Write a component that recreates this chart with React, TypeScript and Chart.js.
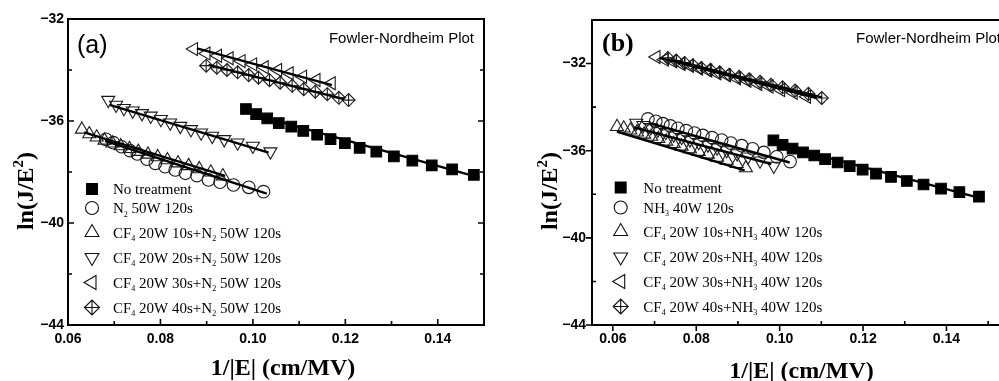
import React, { useEffect, useRef } from 'react';
import { Chart, registerables } from 'chart.js';

Chart.register(...registerables);

const SERIF = '"Liberation Serif", "Times New Roman", serif';
const SANS = '"Liberation Sans", Arial, sans-serif';

// ---------- axis ticks ----------
const xTickValues = [0.06, 0.08, 0.1, 0.12, 0.14];
const xTickLabels = ['0.06', '0.08', '0.10', '0.12', '0.14'];
const yTickValues = [-44, -40, -36, -32];
const yTickLabels = ['\u221244', '\u221240', '\u221236', '\u221232'];

// ---------- shared: untreated sample ----------
const noTreatX = [0.0985, 0.1007, 0.1031, 0.1056, 0.1083, 0.1109, 0.1139, 0.1168, 0.1199, 0.1231, 0.1267, 0.1305, 0.1345, 0.1387, 0.1431, 0.1478];
const noTreatY = [-35.53, -35.73, -35.9, -36.08, -36.22, -36.39, -36.54, -36.71, -36.87, -37.05, -37.2, -37.39, -37.55, -37.74, -37.9, -38.11];
const noTreatFitX = [0.0985, 0.149];
const noTreatFitY = [-35.65, -38.22];

// ---------- (a) N2 plasma series ----------
const n2X = [0.0682, 0.0698, 0.0716, 0.0734, 0.075, 0.0771, 0.0789, 0.081, 0.0832, 0.0854, 0.0879, 0.0904, 0.0929, 0.0958, 0.0991, 0.1023];
const n2Y = [-36.72, -36.85, -37.01, -37.16, -37.29, -37.5, -37.66, -37.79, -37.92, -38.05, -38.14, -38.31, -38.4, -38.51, -38.6, -38.77];
const n2FitX = [0.068, 0.103];
const n2FitY = [-36.78, -38.85];

const cf10n2X = [0.063, 0.0646, 0.0662, 0.0679, 0.0696, 0.0714, 0.0733, 0.0752, 0.0773, 0.0794, 0.0815, 0.0838, 0.0861, 0.0884, 0.0909, 0.0935];
const cf10n2Y = [-36.33, -36.51, -36.64, -36.76, -36.87, -36.98, -37.09, -37.2, -37.31, -37.41, -37.53, -37.65, -37.76, -37.88, -38.01, -38.16];
const cf10n2FitX = [0.0635, 0.094];
const cf10n2FitY = [-36.45, -38.15];

const cf20n2X = [0.0687, 0.0704, 0.0721, 0.074, 0.076, 0.0779, 0.0801, 0.0821, 0.0843, 0.0866, 0.0888, 0.0912, 0.0938, 0.0967, 0.1, 0.1038];
const cf20n2Y = [-35.18, -35.37, -35.5, -35.6, -35.7, -35.8, -35.93, -36.07, -36.2, -36.33, -36.46, -36.59, -36.72, -36.85, -36.98, -37.2];
const cf20n2FitX = [0.069, 0.1034];
const cf20n2FitY = [-35.37, -37.24];

const cf30n2X = [0.0872, 0.0899, 0.0924, 0.0949, 0.0975, 0.1, 0.1025, 0.1054, 0.1079, 0.1108, 0.1137, 0.117];
const cf30n2Y = [-33.18, -33.35, -33.44, -33.54, -33.65, -33.78, -33.89, -34.0, -34.13, -34.26, -34.39, -34.52];
const cf30n2FitX = [0.0879, 0.1171];
const cf30n2FitY = [-33.15, -34.59];

const cf40n2X = [0.0899, 0.0922, 0.0944, 0.0967, 0.0991, 0.1012, 0.1036, 0.1059, 0.1085, 0.111, 0.1135, 0.1161, 0.1186, 0.1207];
const cf40n2Y = [-33.83, -33.91, -34.0, -34.09, -34.2, -34.3, -34.4, -34.5, -34.62, -34.75, -34.85, -34.95, -35.09, -35.18];
const cf40n2FitX = [0.0904, 0.1197];
const cf40n2FitY = [-33.8, -35.14];

// ---------- (b) NH3 plasma series ----------
const nh3X = [0.0684, 0.0703, 0.072, 0.0738, 0.0756, 0.0776, 0.0796, 0.0816, 0.0838, 0.0861, 0.0883, 0.0909, 0.0935, 0.0962, 0.0993, 0.1025];
const nh3Y = [-34.54, -34.65, -34.76, -34.86, -34.97, -35.08, -35.19, -35.3, -35.4, -35.51, -35.65, -35.77, -35.91, -36.08, -36.28, -36.5];
const nh3FitX = [0.0688, 0.1024];
const nh3FitY = [-34.73, -36.54];

const cf10nh3X = [0.061, 0.0626, 0.0642, 0.0658, 0.0675, 0.0692, 0.0709, 0.0728, 0.0746, 0.0765, 0.0785, 0.0806, 0.0828, 0.085, 0.0873, 0.0897, 0.0919];
const cf10nh3Y = [-34.9, -34.97, -35.06, -35.15, -35.25, -35.35, -35.45, -35.57, -35.68, -35.8, -35.92, -36.04, -36.17, -36.31, -36.45, -36.6, -36.79];
const cf10nh3FitX = [0.0611, 0.0916];
const cf10nh3FitY = [-35.13, -36.9];

const cf20nh3X = [0.0656, 0.0673, 0.0691, 0.0708, 0.0727, 0.0746, 0.0765, 0.0785, 0.0806, 0.0828, 0.085, 0.0873, 0.0898, 0.0924, 0.0953, 0.0986];
const cf20nh3Y = [-34.73, -34.83, -34.93, -35.04, -35.15, -35.27, -35.38, -35.49, -35.61, -35.73, -35.86, -35.99, -36.13, -36.28, -36.46, -36.7];
const cf20nh3FitX = [0.0651, 0.098];
const cf20nh3FitY = [-34.93, -36.61];

const cf30nh3X = [0.0704, 0.0724, 0.0744, 0.0764, 0.0784, 0.0806, 0.0828, 0.085, 0.0873, 0.0897, 0.0922, 0.0948, 0.0975, 0.1003, 0.1033, 0.1065];
const cf30nh3Y = [-31.7, -31.82, -31.9, -32.02, -32.1, -32.23, -32.32, -32.45, -32.54, -32.68, -32.79, -32.94, -33.05, -33.21, -33.34, -33.52];
const cf30nh3FitX = [0.0712, 0.1089];
const cf30nh3FitY = [-31.74, -33.58];

const cf40nh3X = [0.0732, 0.0752, 0.0772, 0.0792, 0.0812, 0.0834, 0.0856, 0.0879, 0.0903, 0.0927, 0.0953, 0.0979, 0.1007, 0.1037, 0.1069, 0.1101];
const cf40nh3Y = [-31.74, -31.86, -31.97, -32.08, -32.2, -32.29, -32.4, -32.51, -32.61, -32.72, -32.84, -32.97, -33.09, -33.24, -33.39, -33.58];
const cf40nh3FitX = [0.074, 0.1101];
const cf40nh3FitY = [-31.82, -33.55];

// ---------- legend labels ("_" marks a one-character subscript) ----------
const labelsA = [
  'No treatment',
  'N_2 50W 120s',
  'CF_4 20W 10s+N_2 50W 120s',
  'CF_4 20W 20s+N_2 50W 120s',
  'CF_4 20W 30s+N_2 50W 120s',
  'CF_4 20W 40s+N_2 50W 120s',
];
const labelsB = [
  'No treatment',
  'NH_3 40W 120s',
  'CF_4 20W 10s+NH_3 40W 120s',
  'CF_4 20W 20s+NH_3 40W 120s',
  'CF_4 20W 30s+NH_3 40W 120s',
  'CF_4 20W 40s+NH_3 40W 120s',
];

type Marker = 'square' | 'circle' | 'up' | 'down' | 'left' | 'crossDiamond';
const markers: Marker[] = ['square', 'circle', 'up', 'down', 'left', 'crossDiamond'];

interface SeriesDef {
  label: string;
  marker: Marker;
  x: number[];
  y: number[];
  fitX: number[];
  fitY: number[];
}

const seriesA: SeriesDef[] = [
  { label: labelsA[0], marker: markers[0], x: noTreatX, y: noTreatY, fitX: noTreatFitX, fitY: noTreatFitY },
  { label: labelsA[1], marker: markers[1], x: n2X, y: n2Y, fitX: n2FitX, fitY: n2FitY },
  { label: labelsA[2], marker: markers[2], x: cf10n2X, y: cf10n2Y, fitX: cf10n2FitX, fitY: cf10n2FitY },
  { label: labelsA[3], marker: markers[3], x: cf20n2X, y: cf20n2Y, fitX: cf20n2FitX, fitY: cf20n2FitY },
  { label: labelsA[4], marker: markers[4], x: cf30n2X, y: cf30n2Y, fitX: cf30n2FitX, fitY: cf30n2FitY },
  { label: labelsA[5], marker: markers[5], x: cf40n2X, y: cf40n2Y, fitX: cf40n2FitX, fitY: cf40n2FitY },
];

const seriesB: SeriesDef[] = [
  { label: labelsB[0], marker: markers[0], x: noTreatX, y: noTreatY, fitX: noTreatFitX, fitY: noTreatFitY },
  { label: labelsB[1], marker: markers[1], x: nh3X, y: nh3Y, fitX: nh3FitX, fitY: nh3FitY },
  { label: labelsB[2], marker: markers[2], x: cf10nh3X, y: cf10nh3Y, fitX: cf10nh3FitX, fitY: cf10nh3FitY },
  { label: labelsB[3], marker: markers[3], x: cf20nh3X, y: cf20nh3Y, fitX: cf20nh3FitX, fitY: cf20nh3FitY },
  { label: labelsB[4], marker: markers[4], x: cf30nh3X, y: cf30nh3Y, fitX: cf30nh3FitX, fitY: cf30nh3FitY },
  { label: labelsB[5], marker: markers[5], x: cf40nh3X, y: cf40nh3Y, fitX: cf40nh3FitX, fitY: cf40nh3FitY },
];

// ---------- panel layout ----------
interface PanelCfg {
  series: SeriesDef[];
  left: number;
  width: number;
  xMin: number;
  xMax: number;
  yMin: number;
  yMax: number;
  padTop: number;
  padRight: number;
  yAxisWidth: number;
  xAxisHeight: number;
  yLabelPad: number;
  xLabelPad: number;
  majorOut: boolean;
  tag: string;
  tagFont: string;
  tagX: number;
  tagY: number;
  header: string;
  headerX: number;
  headerAlign: CanvasTextAlign;
  xTitle: string;
  xTitleX: number;
  xTitleY: number;
  yTitle: string;
  yTitleX: number;
  yTitleY: number;
  legendMarkerX: number;
  legendTextX: number;
  legendRows: number[];
}

const panelA: PanelCfg = {
  series: seriesA,
  left: 0,
  width: 500,
  xMin: 0.06,
  xMax: 0.15,
  yMin: -44,
  yMax: -32,
  padTop: 19,
  padRight: 16,
  yAxisWidth: 68,
  xAxisHeight: 56,
  yLabelPad: 4,
  xLabelPad: 6,
  majorOut: false,
  tag: '(a)',
  tagFont: `25px ${SANS}`,
  tagX: 77,
  tagY: 53,
  header: 'Fowler-Nordheim Plot',
  headerX: 474,
  headerAlign: 'right',
  xTitle: '1/|E| (cm/MV)',
  xTitleX: 283,
  xTitleY: 375,
  yTitle: 'ln(J/E^2)',
  yTitleX: 33,
  yTitleY: 191,
  legendMarkerX: 92,
  legendTextX: 113,
  legendRows: [189, 208, 232.5, 257.5, 282.5, 307.5],
};

const panelB: PanelCfg = {
  series: seriesB,
  left: 500,
  width: 530,
  xMin: 0.055,
  xMax: 0.155,
  yMin: -44,
  yMax: -30,
  padTop: 20,
  padRight: 21,
  yAxisWidth: 92,
  xAxisHeight: 56,
  yLabelPad: 6,
  xLabelPad: 6,
  majorOut: true,
  tag: '(b)',
  tagFont: `bold 26px ${SERIF}`,
  tagX: 102,
  tagY: 51,
  header: 'Fowler-Nordheim Plot',
  headerX: 356,
  headerAlign: 'left',
  xTitle: '1/|E| (cm/MV)',
  xTitleX: 301.5,
  xTitleY: 378,
  yTitle: 'ln(J/E^2)',
  yTitleX: 57,
  yTitleY: 191,
  legendMarkerX: 120.7,
  legendTextX: 143.3,
  legendRows: [187.5, 207.5, 231.5, 257, 281.5, 306.5],
};

// ---------- drawing helpers ----------
type Part = { t: string; kind: 'n' | 'sub' | 'sup' };

function parseRich(text: string): Part[] {
  const parts: Part[] = [];
  let buf = '';
  for (let i = 0; i < text.length; i++) {
    const c = text[i];
    if ((c === '_' || c === '^') && i + 1 < text.length) {
      if (buf) parts.push({ t: buf, kind: 'n' });
      buf = '';
      parts.push({ t: text[i + 1], kind: c === '_' ? 'sub' : 'sup' });
      i++;
    } else {
      buf += c;
    }
  }
  if (buf) parts.push({ t: buf, kind: 'n' });
  return parts;
}

function drawRich(
  ctx: CanvasRenderingContext2D,
  text: string,
  x: number,
  y: number,
  size: number,
  family: string,
  weight: string,
  align: 'left' | 'center',
  scriptScale = 0.58,
) {
  const parts = parseRich(text);
  const fontOf = (p: Part) =>
    `${weight} ${p.kind === 'n' ? size : Math.round(size * scriptScale)}px ${family}`;
  let total = 0;
  const widths = parts.map((p) => {
    ctx.font = fontOf(p);
    const w = ctx.measureText(p.t).width;
    total += w;
    return w;
  });
  let cx = align === 'center' ? x - total / 2 : x;
  ctx.textAlign = 'left';
  ctx.textBaseline = 'alphabetic';
  parts.forEach((p, i) => {
    ctx.font = fontOf(p);
    const dy = p.kind === 'sub' ? size * 0.26 : p.kind === 'sup' ? -size * 0.42 : 0;
    ctx.fillText(p.t, cx, y + dy);
    cx += widths[i];
  });
}

function drawLegendMarker(ctx: CanvasRenderingContext2D, m: Marker, x: number, y: number) {
  ctx.save();
  ctx.lineWidth = 1.1;
  ctx.strokeStyle = '#111';
  ctx.fillStyle = '#000';
  ctx.beginPath();
  if (m === 'square') {
    const s = 6;
    ctx.rect(x - s, y - s, 2 * s, 2 * s);
    ctx.fill();
  } else if (m === 'circle') {
    ctx.arc(x, y, 6.5, 0, Math.PI * 2);
    ctx.stroke();
  } else if (m === 'up' || m === 'down' || m === 'left') {
    const r = 8;
    const rot = m === 'up' ? 0 : m === 'down' ? Math.PI : -Math.PI / 2;
    for (let k = 0; k < 3; k++) {
      const a = rot + (k * 2 * Math.PI) / 3;
      const px = x + Math.sin(a) * r;
      const py = y - Math.cos(a) * r;
      if (k === 0) ctx.moveTo(px, py);
      else ctx.lineTo(px, py);
    }
    ctx.closePath();
    ctx.stroke();
  } else {
    const r = 7.5;
    ctx.moveTo(x - r, y);
    ctx.lineTo(x, y - r);
    ctx.lineTo(x + r, y);
    ctx.lineTo(x, y + r);
    ctx.closePath();
    ctx.moveTo(x - r, y);
    ctx.lineTo(x + r, y);
    ctx.moveTo(x, y - r);
    ctx.lineTo(x, y + r);
    ctx.stroke();
  }
  ctx.restore();
}

// frame, inner ticks, titles, panel tag and legend
const decorPlugin = {
  id: 'fnDecor',
  afterDraw(chart: any, _args: any, o: PanelCfg) {
    const { ctx, chartArea: ca, scales } = chart;
    const xs = scales.x;
    const ys = scales.y;
    ctx.save();
    ctx.strokeStyle = '#000';
    ctx.fillStyle = '#000';

    ctx.lineWidth = 2;
    ctx.strokeRect(ca.left, ca.top, ca.right - ca.left, ca.bottom - ca.top);

    const majLen = 6;
    const minLen = 4;
    const dir = o.majorOut ? -1 : 1;
    ctx.lineWidth = 1.6;
    ctx.beginPath();
    for (let v = o.yMin; v <= o.yMax + 1e-9; v += 2) {
      const p = ys.getPixelForValue(v);
      const major = yTickValues.includes(v);
      const len = major ? majLen * dir : minLen;
      ctx.moveTo(ca.left, p);
      ctx.lineTo(ca.left + len, p);
      ctx.moveTo(ca.right, p);
      ctx.lineTo(ca.right - len, p);
    }
    for (let k = Math.ceil(o.xMin * 100 - 1e-6); k <= Math.floor(o.xMax * 100 + 1e-6); k++) {
      const v = k / 100;
      const p = xs.getPixelForValue(v);
      const major = k % 2 === 0;
      const len = major ? majLen * dir : minLen;
      ctx.moveTo(p, ca.bottom);
      ctx.lineTo(p, ca.bottom - len);
    }
    ctx.stroke();

    // axis titles
    drawRich(ctx, o.xTitle, o.xTitleX, o.xTitleY, 24, SERIF, 'bold', 'center');
    ctx.save();
    ctx.translate(o.yTitleX, o.yTitleY);
    ctx.rotate(-Math.PI / 2);
    drawRich(ctx, o.yTitle, 0, 0, 24, SERIF, 'bold', 'center', 0.62);
    ctx.restore();

    // panel tag and header
    ctx.font = o.tagFont;
    ctx.textAlign = 'left';
    ctx.textBaseline = 'alphabetic';
    ctx.fillText(o.tag, o.tagX, o.tagY);
    ctx.font = `15px ${SANS}`;
    ctx.textAlign = o.headerAlign;
    ctx.fillText(o.header, o.headerX, 43);

    // legend
    o.series.forEach((s, i) => {
      const yRow = o.legendRows[i];
      drawLegendMarker(ctx, s.marker, o.legendMarkerX, yRow);
      drawRich(ctx, s.label, o.legendTextX, yRow + 5, 15, SERIF, 'normal', 'left', 0.55);
    });
    ctx.restore();
  },
};

function markerDatasets(s: SeriesDef): any[] {
  const data = s.x.map((v, i) => ({ x: v, y: s.y[i] }));
  const base = {
    type: 'scatter',
    label: s.label,
    data,
    showLine: false,
    order: 1,
    pointBorderWidth: 1.1,
    pointBorderColor: '#1a1a1a',
    pointBackgroundColor: 'rgba(0,0,0,0)',
    pointRotation: 0,
  };
  switch (s.marker) {
    case 'square':
      return [{ ...base, pointStyle: 'rect', pointRadius: 7.5, pointBackgroundColor: '#000', pointBorderColor: '#000' }];
    case 'circle':
      return [{ ...base, pointStyle: 'circle', pointRadius: 6.3 }];
    case 'up':
      return [{ ...base, pointStyle: 'triangle', pointRadius: 7.5 }];
    case 'down':
      return [{ ...base, pointStyle: 'triangle', pointRadius: 7.5, pointRotation: 180 }];
    case 'left':
      return [{ ...base, pointStyle: 'triangle', pointRadius: 7.5, pointRotation: 270 }];
    default:
      return [
        { ...base, pointStyle: 'rectRot', pointRadius: 6.5 },
        { ...base, pointStyle: 'cross', pointRadius: 6.5 },
      ];
  }
}

function fitDataset(s: SeriesDef): any {
  return {
    type: 'scatter',
    label: s.label + ' fit',
    data: s.fitX.map((v, i) => ({ x: v, y: s.fitY[i] })),
    showLine: true,
    borderColor: '#000',
    borderWidth: 2.4,
    pointRadius: 0,
    order: 0,
  };
}

function Panel({ cfg }: { cfg: PanelCfg }) {
  const ref = useRef<HTMLCanvasElement>(null);
  useEffect(() => {
    const canvas = ref.current;
    if (!canvas) return;
    const datasets = [
      ...cfg.series.map(fitDataset),
      ...cfg.series.flatMap(markerDatasets),
    ];
    const tickFont = { family: SANS, size: 14, weight: 'bold' as const };
    const chart = new Chart(canvas, {
      type: 'scatter',
      data: { datasets },
      plugins: [decorPlugin],
      options: {
        responsive: false,
        animation: false,
        devicePixelRatio: 1,
        layout: { padding: { top: cfg.padTop, right: cfg.padRight, left: 0, bottom: 0 } },
        events: [],
        plugins: {
          legend: { display: false },
          tooltip: { enabled: false },
          fnDecor: cfg,
        } as any,
        scales: {
          x: {
            type: 'linear',
            min: cfg.xMin,
            max: cfg.xMax,
            grid: { display: false, drawTicks: false, tickLength: 0 },
            border: { display: false },
            ticks: {
              font: tickFont,
              color: '#000',
              padding: cfg.xLabelPad,
              autoSkip: false,
              maxRotation: 0,
              callback: (_v: any, i: number) => xTickLabels[i],
            },
            afterBuildTicks: (scale: any) => {
              scale.ticks = xTickValues.map((v) => ({ value: v }));
            },
            afterFit: (scale: any) => {
              scale.height = cfg.xAxisHeight;
            },
          },
          y: {
            type: 'linear',
            min: cfg.yMin,
            max: cfg.yMax,
            grid: { display: false, drawTicks: false, tickLength: 0 },
            border: { display: false },
            ticks: {
              font: tickFont,
              color: '#000',
              padding: cfg.yLabelPad,
              autoSkip: false,
              callback: (_v: any, i: number) => yTickLabels[i],
            },
            afterBuildTicks: (scale: any) => {
              scale.ticks = yTickValues.map((v) => ({ value: v }));
            },
            afterFit: (scale: any) => {
              scale.width = cfg.yAxisWidth;
            },
          },
        },
      } as any,
    });
    return () => chart.destroy();
  }, [cfg]);
  return (
    <canvas
      ref={ref}
      width={cfg.width}
      height={381}
      style={{ position: 'absolute', left: cfg.left, top: 0, width: cfg.width, height: 381, display: 'block' }}
    />
  );
}

export default function App() {
  return (
    <div
      style={{
        position: 'fixed',
        left: 0,
        top: 0,
        width: 999,
        height: 381,
        overflow: 'hidden',
        background: '#fff',
      }}
    >
      <Panel cfg={panelA} />
      <Panel cfg={panelB} />
    </div>
  );
}
